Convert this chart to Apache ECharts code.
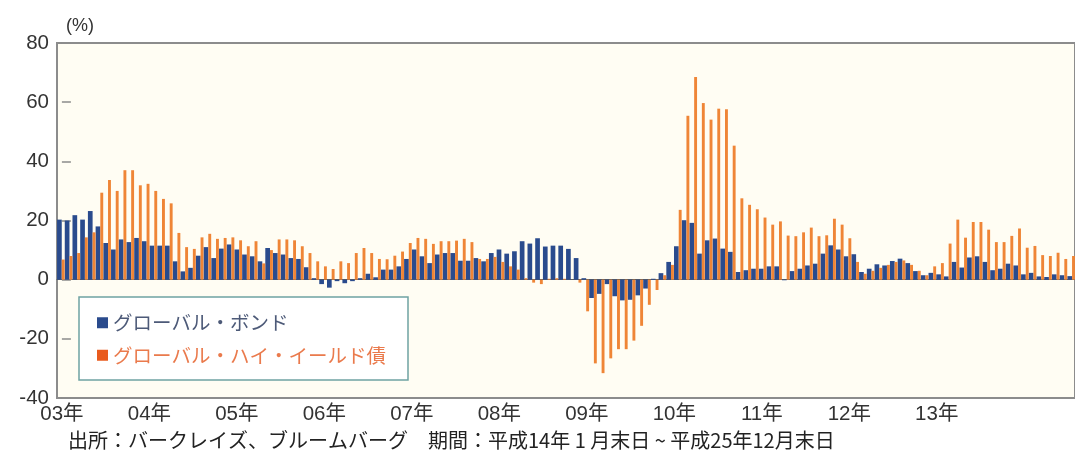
<!DOCTYPE html>
<html>
<head>
<meta charset="utf-8">
<script src="https://cdn.jsdelivr.net/npm/echarts@6.0.0/dist/echarts.min.js"></script>
<style>
  html, body { margin: 0; padding: 0; background: #fff; overflow: hidden; }
  #chart { width: 1075px; height: 462px; }
</style>
</head>
<body>
<div id="chart"></div>
<script>
// 月次（前年同月比、%）  03年1月 ～ 13年12月
const years = ["03", "04", "05", "06", "07", "08", "09", "10", "11", "12", "13"];
const yearLabels = years.map(y => y + "年");

const months = [];
years.forEach(y => {
  for (let m = 1; m <= 12; m++) months.push(y + "/" + m);
});

// グローバル・ボンド
const bondValues = [
  20.3, 20, 21.8, 20.3, 23.2, 18, 12.4, 10.2, 13.6, 12.7, 14.1, 13,
  11.5, 11.5, 11.5, 6.2, 2.8, 4, 8.1, 11, 7.3, 10.5, 11.9, 10.2,
  8.5, 7.9, 6.2, 10.7, 9, 8.5, 7.3, 7, 4.2, 0.5, -1.5, -2.7,
  -0.5, -1.2, -0.5, 0.5, 2, 0.8, 3.4, 3.4, 4.5, 7, 10.2, 7.9,
  5.6, 8.5, 9, 9, 6.4, 6.4, 7.3, 6.2, 9, 10.2, 8.8, 9.6,
  13, 12.2, 14, 11.2, 11.5, 11.5, 10.4, 7.3, 0.5, -6.2, -4.8, -1.5,
  -5.6, -7, -6.8, -5.3, -3, 0.3, 2.2, 6, 11.3, 20.1, 19.2, 8.8,
  13.3, 13.9, 10.5, 9.4, 2.6, 3.2, 3.7, 3.7, 4.5, 4.5, -0.2, 2.9,
  3.7, 4.8, 5.4, 8.8, 11.6, 10.2, 7.9, 8.6, 2.6, 3.7, 5.2, 4.8,
  6.3, 7.1, 5.6, 2.9, 1.5, 2.3, 1.8, 1.1, 6, 4.1, 7.5, 7.9,
  6, 3.2, 3.7, 5.4, 4.8, 1.8, 2.3, 1.1, 0.9, 1.8, 1.5, 1.2
];

// グローバル・ハイ・イールド債
const highYieldValues = [
  6.8, 8, 9, 14.3, 16, 29.4, 33.7, 30, 37, 37, 31.9, 32.4,
  30, 27.3, 25.8, 15.8, 11, 10.4, 14.3, 15.5, 13.8, 14.1, 14.3, 13.3,
  11.3, 13, 5.5, 10, 13.6, 13.6, 13.3, 11.3, 9, 6.2, 4.5, 3.6,
  6.2, 5.6, 9, 10.7, 9, 7, 6.9, 8.1, 9.5, 12.4, 14.1, 13.8,
  12.1, 13, 13, 13.2, 13.8, 12.7, 7, 7, 7.7, 6, 4.5, 3.4,
  0.5, -1, -1.5, 0.3, 0.5, 0.3, 0, -1, -10.7, -28.3, -31.6, -26.6,
  -23.5, -23.5, -20.6, -15.6, -8.5, -3.5, 1.5, 5, 23.6, 55.4, 68.5, 59.7,
  54.1, 57.8, 57.6, 45.3, 27.5, 25.3, 23.8, 21, 18.6, 19.7, 14.9, 14.7,
  16, 17.6, 14.7, 15, 20.6, 18.6, 14, 6, 2, 3, 4, 5,
  6, 6.5, 5, 3, 1.5, 4.5, 5.6, 12.2, 20.3, 14.2, 19.5, 19.5,
  16.9, 12.7, 12.7, 14.8, 17.3, 10.8, 11.4, 8.3, 8, 9.1, 7, 8
];

const yTicks = { min: -40, max: 80, interval: 20 };
const yearTickValues = [0, 1, 2, 3, 4, 5, 6, 7, 8, 9, 10];

const footerText = "出所：バークレイズ、ブルームバーグ　期間：平成14年 1 月末日 ~ 平成25年12月末日";

const fontFamily = "'Liberation Sans', Arial, 'Noto Sans CJK JP', sans-serif";
const jpFont = "'Noto Sans CJK JP', sans-serif";

const chart = echarts.init(document.getElementById("chart"));

const option = {
  animation: false,
  backgroundColor: "#ffffff",
  textStyle: { fontFamily: fontFamily },
  title: {
    text: footerText,
    left: 68,
    top: 430,
    padding: 0,
    textStyle: { fontSize: 20, fontWeight: "normal", color: "#222", fontFamily: jpFont }
  },
  grid: {
    left: 57,
    top: 43,
    width: 1031,
    height: 355,
    show: true,
    backgroundColor: "#fffdf3",
    borderColor: "#8c8c8c",
    borderWidth: 2
  },
  graphic: [
    {
      // 凡例の枠
      type: "rect",
      z: 3,
      shape: { x: 79, y: 297, width: 329, height: 83 },
      style: { fill: "#ffffff", stroke: "#6fa3a3", lineWidth: 1.5 }
    }
  ],
  legend: {
    orient: "vertical",
    left: 97,
    top: 313,
    z: 5,
    padding: 0,
    itemWidth: 11,
    itemHeight: 11,
    itemGap: 13,
    icon: "rect",
    textStyle: { fontSize: 19.5, fontFamily: jpFont },
    data: [
      { name: "グローバル・ボンド", textStyle: { color: "#4d5a78" } },
      { name: "グローバル・ハイ・イールド債", itemStyle: { color: "#e95b1e" }, textStyle: { color: "#ea7a4c" } }
    ]
  },
  xAxis: [
    {
      type: "category",
      data: months,
      axisLine: { onZero: true, lineStyle: { color: "#5c5c5c", width: 1 } },
      axisTick: { show: false },
      axisLabel: { show: false },
      splitLine: { show: false }
    },
    {
      type: "value",
      position: "bottom",
      min: -0.056,
      max: 11.58,
      axisLine: { show: false },
      axisTick: { show: false },
      splitLine: { show: false },
      axisLabel: {
        customValues: yearTickValues,
        formatter: v => yearLabels[Math.round(v)],
        fontSize: 20.5,
        color: "#333",
        margin: 6
      }
    }
  ],
  yAxis: {
    type: "value",
    min: yTicks.min,
    max: yTicks.max,
    interval: yTicks.interval,
    name: "(%)",
    nameLocation: "end",
    nameGap: 8,
    nameTextStyle: { fontSize: 18, color: "#333", align: "left", padding: [0, 0, 0, 4] },
    axisLine: { show: false },
    axisTick: { show: true, inside: true, length: 9, lineStyle: { color: "#8c8c8c", width: 1.5 } },
    axisLabel: { fontSize: 20.5, color: "#333", margin: 8 },
    splitLine: { show: false }
  },
  series: [
    {
      name: "グローバル・ボンド",
      type: "bar",
      data: bondValues,
      barWidth: 4.7,
      barGap: "0%",
      itemStyle: { color: "#2a4b8d" }
    },
    {
      name: "グローバル・ハイ・イールド債",
      type: "bar",
      data: highYieldValues,
      barWidth: 2.9,
      barGap: "0%",
      itemStyle: { color: "#ef8536" }
    }
  ]
};

chart.setOption(option);
</script>
</body>
</html>
